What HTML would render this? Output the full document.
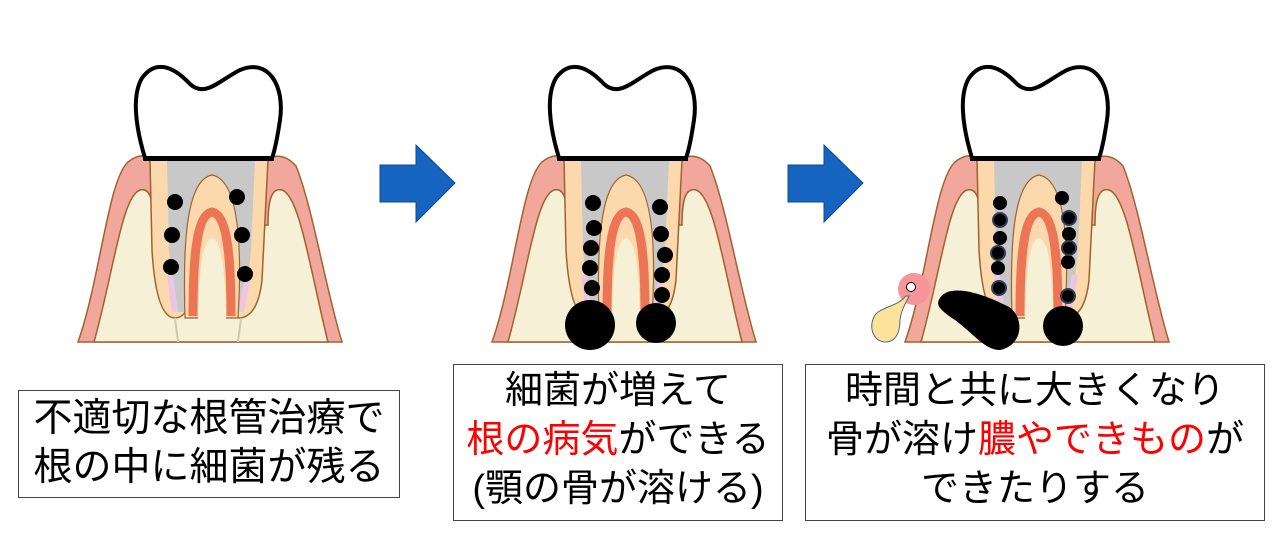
<!DOCTYPE html>
<html><head><meta charset="utf-8"><style>
html,body{margin:0;padding:0;background:#fff;width:1280px;height:540px;overflow:hidden}
.box{position:absolute;border:1.5px solid #444;background:#fff;font-family:"Liberation Sans","Noto Sans CJK JP",sans-serif;font-size:38px;color:#000;text-align:center;line-height:49px;box-sizing:border-box;white-space:nowrap}
.r{color:#ff0000}
</style></head><body>
<svg width="1280" height="540" style="position:absolute;left:0;top:0">
<defs>
<g id="tooth">
  <path d="M78,342 C100,280 108,180 128,162 Q140,152 152,158 L268,158 Q284,152 296,166 C312,205 326,290 342,342 Z" fill="#f2a79c" stroke="#a0622d" stroke-width="1.5"/>
  <path d="M94,342 C114,270 122,196 140,190 C152,187 153,205 153,225 L268,225 C268,205 270,187 282,190 C300,196 310,270 328,342 Z" fill="#f5f0d6" stroke="#a0622d" stroke-width="1.5"/>
  <path d="M150,160 L152,250 Q156,318 175,318 Q186,318 190,300 C198,250 205,238 213,238 C221,238 228,250 232,300 Q235,318 240,318 Q258,316 262,280 L268,160 Z" fill="#fbd9ad" stroke="#a0622d" stroke-width="1.5"/>
  <path d="M167,160 L255,160 L251,250 L244,312 L234,312 L230,200 L194,200 L186,312 L175,312 L169,250 Z" fill="#c8c8c8"/>
  <path d="M170,275 L175,312 M248,275 L241,312" stroke="#ecc4e4" stroke-width="6"/>
  <path d="M185,318 C183,250 185,180 212,175 C240,180 242,250 238,318 Z" fill="#fbd9ad" stroke="#a0622d" stroke-width="1.2"/>
  <path d="M193,316 C193,260 196,215 212,212 C228,215 231,260 231,316" fill="none" stroke="#ec7555" stroke-width="9"/>
  <path d="M198,321 C199,265 203,240 212,238 C221,240 225,265 226,321 Z" fill="#f5f0d6"/>
  <path d="M175,318 L178,342 M241,318 L238,342" stroke="#d0c8b0" stroke-width="2"/>
  <path d="M145,158 C135,125 132,95 142,78 C155,60 172,65 190,84 C205,98 220,80 240,70 C268,58 285,85 280,120 C277,140 275,150 272,158 Z" fill="#fff" stroke="#000" stroke-width="4" stroke-linejoin="round"/>
  <line x1="143" y1="159" x2="274" y2="159" stroke="#000" stroke-width="4"/>
</g>
</defs>
<use href="#tooth"/>
<use href="#tooth" x="414"/>
<use href="#tooth" x="827"/>
<g fill="#000">
<circle cx="175" cy="202" r="8"/><circle cx="172" cy="235" r="8"/><circle cx="171" cy="267" r="8"/>
<circle cx="237" cy="197" r="8"/><circle cx="242" cy="235" r="8"/><circle cx="245" cy="274" r="8"/>
<circle cx="593" cy="203" r="8"/><circle cx="594" cy="228" r="8"/><circle cx="591" cy="248" r="8"/><circle cx="590" cy="268" r="8"/><circle cx="592" cy="288" r="8"/>
<circle cx="660" cy="207" r="8"/><circle cx="661" cy="234" r="8"/><circle cx="665" cy="255" r="8"/><circle cx="662" cy="275" r="8"/><circle cx="662" cy="295" r="8"/>
<circle cx="590" cy="325" r="25"/><circle cx="656" cy="323" r="20"/>
<circle cx="1000" cy="203" r="7"/><circle cx="1062" cy="198" r="7"/>
<circle cx="1000" cy="238" r="7"/><circle cx="998" cy="268" r="7"/>
<circle cx="1069" cy="234" r="7"/><circle cx="1068" cy="262" r="7"/>
<g stroke="#2c3e5a" stroke-width="2"><circle cx="1000" cy="220" r="7"/><circle cx="998" cy="253" r="7"/><circle cx="999" cy="288" r="7"/>
<circle cx="1069" cy="218" r="7"/><circle cx="1069" cy="248" r="7"/><circle cx="1068" cy="296" r="7"/></g>
<circle cx="1063" cy="326" r="20"/>
<path d="M940,298 C948,285 975,290 1005,305 C1025,313 1025,345 1000,350 C985,350 975,335 955,320 C940,310 935,305 940,298 Z"/>
</g>
<circle cx="914" cy="289" r="16" fill="#f7959a"/>
<circle cx="911" cy="287" r="4.5" fill="#fff" stroke="#000" stroke-width="1"/>
<path d="M906,296 C898,305 890,305 878,312 C868,320 870,340 884,342 C897,343 900,330 900,320 C901,310 906,303 909,296 Z" fill="#fde39a" stroke="#55657a" stroke-width="1"/>
<g fill="#1565c0" stroke="#0d4a91" stroke-width="1">
<path d="M380,165 L416,165 L416,145 L455,183 L416,222 L416,202 L380,202 Z"/>
<path d="M788,165 L824,165 L824,145 L863,183 L824,222 L824,202 L788,202 Z"/>
</g>
</svg>
<div class="box" style="left:18px;top:390px;width:382px;height:108px;padding-top:3px;font-size:39px">不適切な根管治療で<br>根の中に細菌が残る</div>
<div class="box" style="left:453px;top:364px;width:330px;height:157px;padding-top:2px">細菌が増えて<br><span class="r">根の病気</span>ができる<br>(顎の骨が溶ける)</div>
<div class="box" style="left:805px;top:364px;width:460px;height:157px;padding-top:2px">時間と共に大きくなり<br>骨が溶け<span class="r">膿やできもの</span>が<br>できたりする</div>
</body></html>
